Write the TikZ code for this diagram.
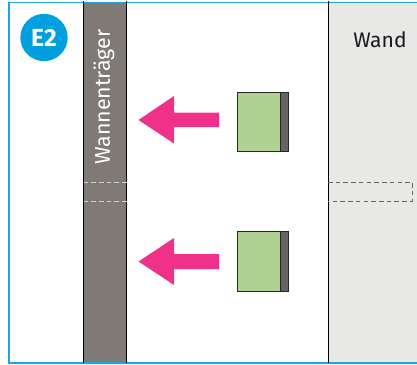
\documentclass[tikz,border=0pt]{standalone}
\usepackage{fontspec}
\setmainfont{Fira Sans}
\definecolor{framecyan}{HTML}{1AA7E0}
\definecolor{badge}{HTML}{009FDF}
\definecolor{post}{HTML}{7F7A76}
\definecolor{wall}{HTML}{E8E8E7}
\definecolor{pinkarrow}{HTML}{EF318A}
\definecolor{pad}{HTML}{AFD192}
\definecolor{padback}{HTML}{66645F}
\definecolor{dashgrey}{HTML}{666666}
\definecolor{dashlight}{HTML}{D5D3D0}
\tikzset{
  x=0.75pt,y=-0.75pt,
  edge/.style={draw=black,line width=0.75pt},
  padbox/.style={draw=black!85,line width=0.65pt,fill=pad},
  backbox/.style={draw=black!85,line width=0.65pt,fill=padback},
  pusharrow/.style={fill=pinkarrow},
  dashbox/.style={dashed,dash pattern=on 3.4pt off 2.4pt,line width=0.7pt},
}
\begin{document}
\begin{tikzpicture}
\useasboundingbox (0,0) rectangle (417,364);
\fill[white] (0,0) rectangle (417,364);
\fill[wall] (328,2) rectangle (417,363);
\fill[post] (83.5,2) rectangle (126.5,363);
\draw[framecyan,line width=1.3pt] (8.8,2.4) -- (417,2.4);
\draw[framecyan,line width=1.3pt] (8.8,2.4) -- (8.8,363.2) -- (417,363.2);
\draw[edge] (83.5,1) -- (83.5,363);
\draw[edge] (126.5,1) -- (126.5,363);
\draw[edge] (328,1) -- (328,363);
% dashed joint
\draw[dashbox,dashlight] (83.5,182) -- (126.5,182) (83.5,201.5) -- (126.5,201.5);
\draw[dashbox,dashgrey] (328,182) -- (412,182) -- (412,201) -- (328,201);
\node[circle,fill=badge,minimum size=35.5pt,inner sep=0pt] (badgenode) at (44,37.5) {};
\node[text=white,font=\fontsize{18.5}{18.5}\selectfont\bfseries] (badgetext) at (44,37.5) {E2};
\node[text=white,rotate=90,font=\fontsize{16}{16}\selectfont] (postlabel) at (104,97) {Wannenträger};
\node[text=black!90,font=\fontsize{15.8}{15.8}\selectfont] (walllabel) at (380,39.5) {Wand};
% upper
\fill[pusharrow] (138.5,120) -- (174,96) -- (174,112.5) -- (219,112.5) -- (219,127) -- (174,127) -- (174,143.5) -- cycle;
\draw[padbox] (237,92) rectangle (280,151.5);
\draw[backbox] (280,92) rectangle (288,151.5);
% lower
\fill[pusharrow] (138.5,261.5) -- (174,238) -- (174,254) -- (219,254) -- (219,269) -- (174,269) -- (174,285) -- cycle;
\draw[padbox] (237,231.5) rectangle (280,291);
\draw[backbox] (280,231.5) rectangle (288,291);
\end{tikzpicture}
\end{document}
